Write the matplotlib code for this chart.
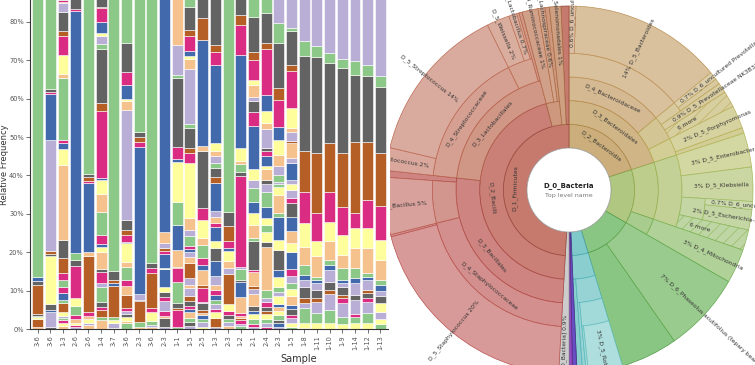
import colorsys
import numpy as np
import matplotlib
matplotlib.use("Agg")
import matplotlib.pyplot as plt
from matplotlib.patches import Wedge, Circle

# ---------------- bar chart data ----------------
samples = ['3-6', '3-6', '1-3', '2-6', '2-6', '1-4', '3-7', '3-6', '2-3', '3-6',
           '2-3', '1-1', '1-5', '2-5', '1-3', '2-3', '1-2', '2-1', '2-4', '2-3',
           '1-5', '1-8', '1-11', '1-10', '1-9', '1-14', '1-12', '1-13']

# taxon group of every segment, bottom to top (G green, L lavender, P peach,
# Y yellow, B blue, M magenta, R rust, K grey)
bar_taxa = [
    'PRYGKRKBG', 'KLBKYKRLBMKG', 'PYMGLYRGBMGMRKPYBMGPYMRKLPMG', 'LMYPMGYMKGBMK',
    'PLYPMRPBMRKG', 'PGRMKGLMKPYBMGPYBMRKGLYBMRK', 'PLYGRBRKG',
    'GPYKLMRPMGPYBMRKLPYBMKG', 'PGRKLBMRKG', 'PLGYMRMKG', 'LKPMLMKYBYBMRLPB',
    'GMRKGMRPBGYBMKGLP', 'LKGPBMKRLPLRPLBMGLPYMRKGLPYBMRKG',
    'YLGBPRKLMRPBMGPYMKPBRK', 'LRYMLGBMPLBKYBMPLBRKGLPYBMRK', 'PLGKMYRLPYBMRKG',
    'GLMRPMPBKGLMKGPYBMRK', 'LMGYBKPLRPMKGPYBGLYBMKLPYMRKG',
    'MLGYRKMLGPKYGYBGLKPYBMKLPYBMRKG', 'LBKGYPBYLGYBKYBGPYGLGLPYBMRKGL',
    'GYLMKBPYGLMBYPBKMLYLBLPRLPYMRKGL', 'RYGLRKLBGPYMRKGL', 'YGLRKLBGPYMRKGL',
    'YGLRKLBGPYMRKGL', 'YGLMRKLBGPYMRKGL', 'YGMLKLBGPYMRKGL', 'YGLMKRLBGPYMRKGL',
    'GYLYKLBGPYMRKGL',
]
# relative frequency (%) of every segment, bottom to top
bar_vals = [
    [0.5, 2.0, 0.5, 0.5, 0.5, 7.5, 1.0, 1.0, 86.5],
    [0.6, 3.9, 0.5, 1.5, 12.5, 0.6, 0.7, 29.0, 12.0, 0.5, 0.8, 37.4],
    [0.7, 0.8, 0.8, 0.5, 0.5, 1.2, 2.2, 0.8, 1.8, 1.7, 1.8, 1.7, 3.9, 4.8, 19.5, 4.3,
     1.4, 0.8, 16.1, 1.2, 5.0, 4.8, 1.2, 5.2, 2.1, 0.5, 0.5, 14.2],
    [0.5, 0.6, 0.5, 0.9, 1.1, 2.4, 2.0, 8.4, 1.6, 1.8, 63.1, 0.4, 16.7],
    [1.0, 0.5, 1.0, 1.0, 1.0, 14.5, 1.0, 18.0, 0.5, 1.0, 1.0, 59.5],
    [2.3, 0.9, 1.7, 0.9, 1.3, 3.9, 0.9, 3.0, 0.8, 4.4, 1.2, 0.9, 2.2, 6.0, 4.8, 3.5,
     0.7, 17.4, 2.2, 13.9, 1.4, 1.9, 0.9, 2.8, 3.8, 0.3, 16.0],
    [0.3, 1.3, 0.8, 0.8, 8.0, 0.8, 0.8, 2.2, 85.0],
    [1.6, 0.6, 0.8, 0.8, 0.9, 0.7, 3.5, 2.3, 1.5, 3.5, 1.2, 4.9, 0.4, 1.8, 1.3, 2.6,
     28.6, 2.3, 0.6, 3.7, 3.4, 7.4, 25.6],
    [0.4, 1.5, 5.3, 0.3, 1.5, 38.4, 1.3, 1.3, 1.3, 48.7],
    [0.6, 0.4, 1.0, 2.4, 1.0, 9.1, 1.3, 1.3, 82.9],
    [0.6, 2.2, 0.7, 1.3, 2.6, 0.9, 1.3, 1.3, 4.7, 0.4, 3.6, 0.8, 0.7, 1.3, 2.9, 74.7],
    [0.6, 4.4, 0.5, 1.2, 5.6, 3.5, 0.4, 4.3, 6.6, 6.1, 10.3, 0.9, 3.0, 17.9, 0.9, 7.8, 26.0],
    [0.8, 1.0, 1.0, 1.5, 0.8, 1.0, 1.3, 1.3, 2.0, 0.8, 1.8, 3.9, 1.5, 1.4, 0.8, 0.6,
     2.6, 1.7, 3.0, 14.4, 2.6, 1.3, 5.2, 1.2, 14.3, 2.6, 0.6, 1.4, 3.9, 1.7, 6.0, 16.0],
    [0.6, 1.2, 0.8, 1.0, 0.6, 0.7, 1.8, 0.4, 3.5, 0.9, 3.9, 1.3, 1.7, 3.5, 1.7, 4.9,
     2.9, 14.9, 1.3, 27.8, 5.6, 19.0],
    [0.6, 2.2, 1.5, 0.8, 1.4, 1.0, 1.3, 1.3, 1.4, 2.3, 3.9, 3.5, 1.6, 3.8, 0.9, 1.8,
     1.5, 7.2, 1.6, 2.4, 1.2, 1.8, 1.3, 2.1, 20.4, 3.4, 1.8, 26.0],
    [0.8, 1.0, 0.8, 1.0, 1.0, 2.0, 7.7, 1.7, 1.7, 2.6, 0.8, 1.7, 3.9, 3.9, 69.4],
    [0.8, 0.6, 1.0, 0.5, 0.6, 0.6, 4.3, 3.8, 0.6, 2.7, 0.7, 23.6, 1.0, 2.2, 0.7, 3.4,
     24.3, 7.8, 2.6, 18.2],
    [0.5, 0.8, 1.2, 1.5, 0.8, 1.2, 3.0, 1.3, 1.0, 3.5, 0.6, 7.4, 0.8, 3.5, 3.0, 3.1,
     3.4, 2.2, 3.0, 11.2, 3.5, 3.0, 0.9, 3.1, 1.3, 5.2, 2.2, 9.2, 18.6],
    [0.5, 1.0, 1.0, 1.3, 1.0, 1.0, 1.2, 1.2, 2.0, 11.2, 1.3, 2.6, 1.7, 1.8, 3.1, 3.9,
     2.0, 1.0, 2.8, 0.8, 2.6, 1.3, 0.9, 4.8, 1.7, 3.0, 4.3, 11.9, 1.5, 7.8, 17.8],
    [0.6, 1.0, 0.8, 1.3, 1.0, 1.0, 0.9, 2.0, 1.0, 1.4, 2.5, 1.8, 5.2, 2.7, 6.1, 0.9,
     4.6, 2.2, 0.8, 0.5, 1.9, 2.2, 3.0, 3.9, 3.4, 7.0, 3.0, 11.7, 5.2, 20.4],
    [0.6, 1.0, 1.2, 0.8, 1.5, 1.2, 2.2, 2.0, 1.5, 1.7, 1.8, 4.5, 2.5, 3.0, 3.6, 3.6,
     1.5, 2.0, 1.5, 1.1, 4.4, 1.3, 4.0, 0.5, 2.2, 1.1, 5.2, 9.6, 1.7, 8.7, 0.8, 21.7],
    [0.3, 1.2, 3.9, 1.3, 1.3, 3.0, 1.8, 1.3, 2.6, 4.7, 6.1, 8.3, 10.5, 24.7, 3.9, 25.1],
    [1.5, 2.6, 2.9, 1.0, 2.2, 1.8, 0.8, 0.8, 5.3, 3.9, 7.3, 15.7, 25.0, 2.9, 26.3],
    [1.5, 3.5, 4.0, 1.2, 2.1, 3.1, 1.3, 1.3, 4.8, 5.2, 7.8, 12.6, 20.8, 2.6, 28.2],
    [1.3, 1.8, 3.6, 1.3, 0.9, 2.1, 0.9, 0.9, 3.0, 3.5, 5.2, 7.4, 13.9, 22.1, 2.4, 29.7],
    [1.5, 1.5, 0.9, 3.6, 1.4, 3.0, 1.3, 2.6, 5.2, 5.2, 3.9, 18.7, 17.4, 3.5, 30.3],
    [1.5, 2.6, 3.0, 0.9, 1.5, 0.6, 2.6, 0.9, 0.9, 6.5, 5.2, 7.4, 15.2, 17.2, 2.8, 31.2],
    [1.2, 1.4, 1.8, 2.4, 1.8, 1.4, 1.5, 1.3, 5.2, 5.2, 8.8, 13.8, 17.2, 3.0, 34.0],
]

taxa_colors = {'G': '#8cc887', 'L': '#b9afd6', 'P': '#f5c28e', 'Y': '#fefe9c',
               'B': '#4169ab', 'M': '#db2c83', 'R': '#b55f27', 'K': '#636363'}

# ---------------- sunburst (Krona) data ----------------
sb_names = [
    'D_2_Bacteroidia', 'D_3_Bacteroidales', 'D_4_Bacteroidaceae', 'D_5_Bacteroides',
    'D_6_uncultured bacterium', 'D_4_Prevotellaceae', 'D_5_Prevotella 2',
    'D_6_uncultured Prevotella sp.', 'D_5_Prevotellaceae NK3B31 group', '6 more',
    'D_4_Porphyromonadaceae', 'D_5_Porphyromonas',
    'D_1_Proteobacteria', 'D_2_Gammaproteobacteria', 'D_4_Enterobacteriaceae',
    'D_5_Enterobacter', 'D_5_Klebsiella', 'D_5_Escherichia-Shigella',
    'D_6_uncultured bacterium', '6 more', 'D_2_Alphaproteobacteria', 'D_4_Mitochondria',
    'D_3_Chloroplast', 'D_6_Phaseolus acutifolius (tepary bean)',
    'D_1_Actinobacteria', 'D_2_Actinobacteria', 'D_3_Micrococcales',
    'D_4_Micrococcaceae', 'D_5_Rothia',
    'D_1_Fusobacteria', 'D_1_Spirochaetes', '[other D_0_Bacteria]',
    'D_1_Firmicutes', 'D_2_Bacilli', 'D_3_Bacillales', 'D_4_Staphylococcaceae',
    'D_5_Staphylococcus', 'D_4_Bacillaceae', 'D_5_Bacillus', 'D_3_Lactobacillales',
    'D_4_Streptococcaceae', 'D_5_Lactococcus', 'D_5_Streptococcus',
    'D_4_Lactobacillaceae', 'D_5_Weissella', 'D_5_Lactobacillus',
    'D_3_Clostridiales', 'D_4_Ruminococcaceae', 'D_4_Lachnospiraceae',
    'D_3_Selenomonadales',
]
sb_parent = [-1, 0, 1, 2, 3, 1, 5, 6, 5, 5, 1, 10,
             -1, 12, 13, 14, 14, 14, 17, 14, 12, 20,
             -1, 22,
             -1, 24, 25, 26, 27,
             -1, -1, -1,
             -1, 32, 33, 34, 35, 34, 37, 33, 39, 40, 40, 39, 43, 43,
             32, 46, 46, 32]
sb_values = [20.0, 20.0, 14.0, 14.0, 0.6, 3.5, 1.2, 0.7, 0.9, 1.4, 2.5, 2.0,
             13.3, 10.3, 10.3, 3.0, 3.0, 2.5, 0.7, 1.8, 3.0, 3.0,
             12.0, 7.0,
             4.0, 4.0, 3.5, 3.2, 3.0,
             0.4, 0.3, 0.9,
             49.1, 45.0, 25.8, 20.2, 20.0, 5.0, 5.0, 19.2, 16.0, 2.0, 14.0, 2.9, 2.0, 0.7,
             2.4, 1.4, 0.6, 1.0]

fig = plt.figure(figsize=(7.55, 3.65), dpi=100)

# ---------------- stacked bars ----------------
ax = fig.add_axes([30 / 755, 36 / 365, 358 / 755, 329 / 365])
for i in range(len(samples)):
    bottom = 0.0
    for t, v in zip(bar_taxa[i], bar_vals[i]):
        ax.bar(i, v, bottom=bottom, width=0.86, color=taxa_colors[t],
               edgecolor='white', linewidth=0.4)
        bottom += v

ax.set_xlim(-0.6, len(samples) - 0.4)
ax.set_ylim(0, 85.7)
ax.set_yticks(range(0, 90, 10))
ax.set_yticklabels([f'{t}%' for t in range(0, 90, 10)])
ax.set_xticks(range(len(samples)))
ax.set_xticklabels(samples, rotation=90)
ax.tick_params(labelsize=4.8, length=3, width=0.6, colors='#555', pad=1.5)
for s in ['top', 'right']:
    ax.spines[s].set_visible(False)
for s in ['left', 'bottom']:
    ax.spines[s].set_color('#333')
    ax.spines[s].set_linewidth(0.8)
ax.set_ylabel('Relative Frequency', fontsize=6, color='#333')
ax.yaxis.set_label_coords(-0.058, 0.5)
ax.set_xlabel('Sample', fontsize=7, color='#333')
ax.xaxis.set_label_coords(0.751, -0.075)

# ---------------- sunburst ----------------
ax2 = fig.add_axes([390 / 755, 0, 365 / 755, 1])
ax2.set_xlim(390, 755)
ax2.set_ylim(0, 365)
ax2.axis('off')

CX, CY = 569, 175
R_IN, R_OUT = 42, 184
RING_W = (R_OUT - R_IN) / 6

n = len(sb_names)
children = [[] for _ in range(n)]
roots = []
for i, p in enumerate(sb_parent):
    (roots if p < 0 else children[p]).append(i)
ring = [0] * n
start = [0.0] * n


def layout(ids, a0, r):
    a = a0
    for i in ids:
        ring[i] = r
        start[i] = a
        layout(children[i], a, r + 1)
        a += sb_values[i] * 3.6


layout(roots, 0.0, 1)

fir_start = start[sb_names.index('D_1_Firmicutes')]


def node_rgb(theta, r, name, dl=0.0):
    if name.startswith('[other'):
        return colorsys.hls_to_rgb(0, 0.80 + dl, 0)
    t = (theta - fir_start) % 360
    hue = np.interp(t, [0, 73, 93, 161, 177, 227, 249, 297, 339, 341, 352.5, 354, 356],
                    [0, 4, 10, 16, 28, 42, 60, 100, 128, 178, 185, 235, 275])
    base = np.interp(hue, [0, 15, 35, 180, 230, 280], [0.59, 0.61, 0.64, 0.65, 0.55, 0.52])
    l = base + 0.032 * (r - 1) + dl
    s = np.interp(hue, [0, 35, 60, 130, 180, 240], [0.44, 0.44, 0.40, 0.36, 0.42, 0.5])
    return colorsys.hls_to_rgb(hue / 360, min(l, 0.95), s)


def wedge(a0, a1, r0, r1, theta, r, name, hatch=None):
    fc = node_rgb(theta, r, name)
    ec = node_rgb(theta, r, name, dl=-0.2)
    ax2.add_patch(Wedge((CX, CY), r1, 90 - a1, 90 - a0, width=r1 - r0,
                        facecolor=fc, edgecolor=ec, linewidth=0.5, hatch=hatch))


def polar(r, theta):
    phi = np.radians(90 - theta)
    return CX + r * np.cos(phi), CY + r * np.sin(phi)


plt.rcParams['hatch.linewidth'] = 0.4
FS = 4.3
for i in range(n):
    a0 = start[i]
    a1 = a0 + sb_values[i] * 3.6
    am = (a0 + a1) / 2
    r0 = R_IN + (ring[i] - 1) * RING_W
    kids = children[i]
    name = sb_names[i]
    hatch = '///' if name.endswith('more') else None
    pct = f'{sb_values[i]:.0f}%' if sb_values[i] >= 1 else f'{sb_values[i]:.1f}%'
    if not kids:
        wedge(a0, a1, r0, R_OUT, am, ring[i], name, hatch)
        radial = True
        rem = sb_values[i]
    else:
        wedge(a0, a1, r0, r0 + RING_W, am, ring[i], name)
        used = sum(sb_values[k] for k in kids)
        rem = sb_values[i] - used
        if rem > 0.05:
            b0 = a0 + used * 3.6
            wedge(b0, a1, r0 + RING_W, R_OUT, am, ring[i], name)
        radial = rem >= 0.5 * sb_values[i]
        if not radial:
            rm = r0 + RING_W / 2
            arc = rm * np.radians(a1 - a0)
            if arc > len(name) * 2.9 + 4:
                x, y = polar(rm, am)
                phi = 90 - am
                rot = phi + 90 if 90 < am < 270 else phi - 90
                ax2.text(x, y, name, fontsize=FS, color='#333', rotation=rot,
                         rotation_mode='anchor', ha='center', va='center', clip_on=True)
            continue
    span = rem * 3.6
    if span < 1.8:
        continue
    if radial and kids:
        am = a0 + (sb_values[i] - rem) * 3.6 + span / 2
    rl = max(r0 + 6, 125)
    x, y = polar(rl, am)
    if name.endswith('more'):
        label_r, label_l = name, name
    else:
        label_r, label_l = f'{pct} {name}', f'{name} {pct}'
    if am < 180:
        ax2.text(x, y, label_r, fontsize=FS, color='#333', rotation=90 - am,
                 rotation_mode='anchor', ha='left', va='center', clip_on=True)
    else:
        ax2.text(x, y, label_l, fontsize=FS, color='#333', rotation=270 - am,
                 rotation_mode='anchor', ha='right', va='center', clip_on=True)

ax2.add_patch(Circle((CX, CY), R_IN, facecolor='white', edgecolor='#aaaaaa', linewidth=0.6))
ax2.text(CX, CY + 4, 'D_0_Bacteria', fontsize=5, fontweight='bold', color='#222',
         ha='center', va='center')
ax2.text(CX, CY - 5, 'Top level name', fontsize=4.5, color='#777', ha='center', va='center')

fig.savefig('out.png', dpi=100)
